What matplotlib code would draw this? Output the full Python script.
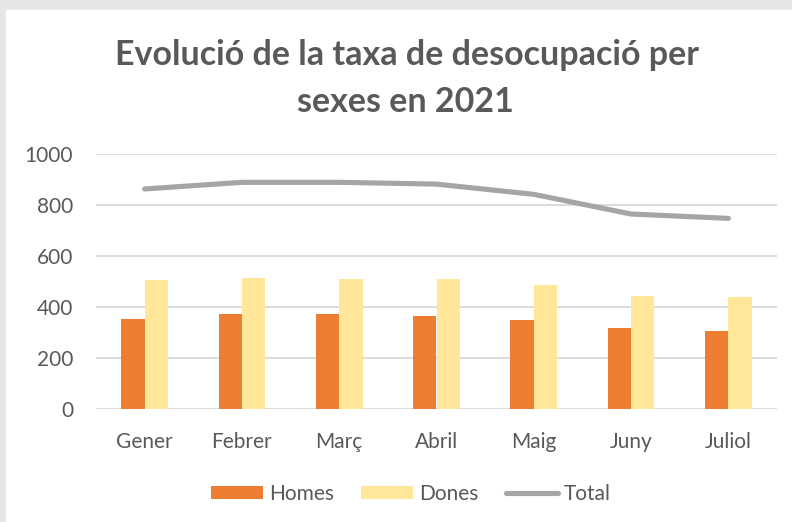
import numpy as np
import matplotlib
matplotlib.use("Agg")
import matplotlib.pyplot as plt
from matplotlib.patches import Rectangle

months = ["Gener", "Febrer", "Març", "Abril", "Maig", "Juny", "Juliol"]
homes = [352, 372, 373, 366, 348, 317, 306]
dones = [507, 514, 511, 511, 485, 443, 439]
total = [862, 888, 888, 881, 841, 764, 747]
yticks = [0, 200, 400, 600, 800, 1000]

plt.rcParams['font.family'] = ['Lato', 'DejaVu Sans']
text_col = '#595959'

W, H = 792, 522
fig = plt.figure(figsize=(W / 100, H / 100), dpi=100, facecolor='#E6E6E6')
# white chart area (grey frame on top and left)
fig.patches.append(Rectangle((6 / W, 0), 1, (H - 10) / H, transform=fig.transFigure,
                             color='white', zorder=-5))

ax = fig.add_axes([96 / W, (H - 409.3) / H, (777 - 96) / W, (409.3 - 153.7) / H])
ax.set_facecolor('none')

x = np.arange(len(months))
w = 0.24
b1 = ax.bar(x - w / 2, homes, w, color='#ED7D31', label='Homes', zorder=2)
b2 = ax.bar(x + w / 2, dones, w, color='#FFE699', label='Dones', zorder=2)
l1, = ax.plot(x, total, color='#A5A5A5', lw=3.7, solid_capstyle='round', label='Total', zorder=3)

ax.set_xlim(-0.5, len(months) - 0.5)
ax.set_ylim(0, 1000)
ax.set_yticks(yticks)
ax.set_xticks(x)
ax.set_xticklabels(months)
ax.grid(axis='y', color='#D9D9D9', lw=1.3, zorder=0)
ax.set_axisbelow(True)
for s in ax.spines.values():
    s.set_visible(False)
ax.tick_params(axis='y', length=0, pad=16.5, labelsize=15, labelcolor=text_col)
ax.tick_params(axis='x', length=0, pad=16, labelsize=15, labelcolor=text_col)

# title in two lines
fig.text(407.4 / W, 1 - 65 / H, "Evolució de la taxa de desocupació per", ha='center',
         va='baseline', fontsize=24.5, fontweight='bold', color=text_col)
fig.text(405.4 / W, 1 - 112 / H, "sexes en 2021", ha='center',
         va='baseline', fontsize=24.5, fontweight='bold', color=text_col)

fig.legend([b1, b2, l1], ['Homes', 'Dones', 'Total'], loc='center',
           bbox_to_anchor=(411 / W, 1 - 494 / H), ncol=3, frameon=False,
           fontsize=15, labelcolor=text_col, handlelength=2.5, handleheight=0.62,
           handletextpad=0.29, columnspacing=1.3, borderpad=0)

fig.savefig('out.png', dpi=100, facecolor=fig.get_facecolor())
